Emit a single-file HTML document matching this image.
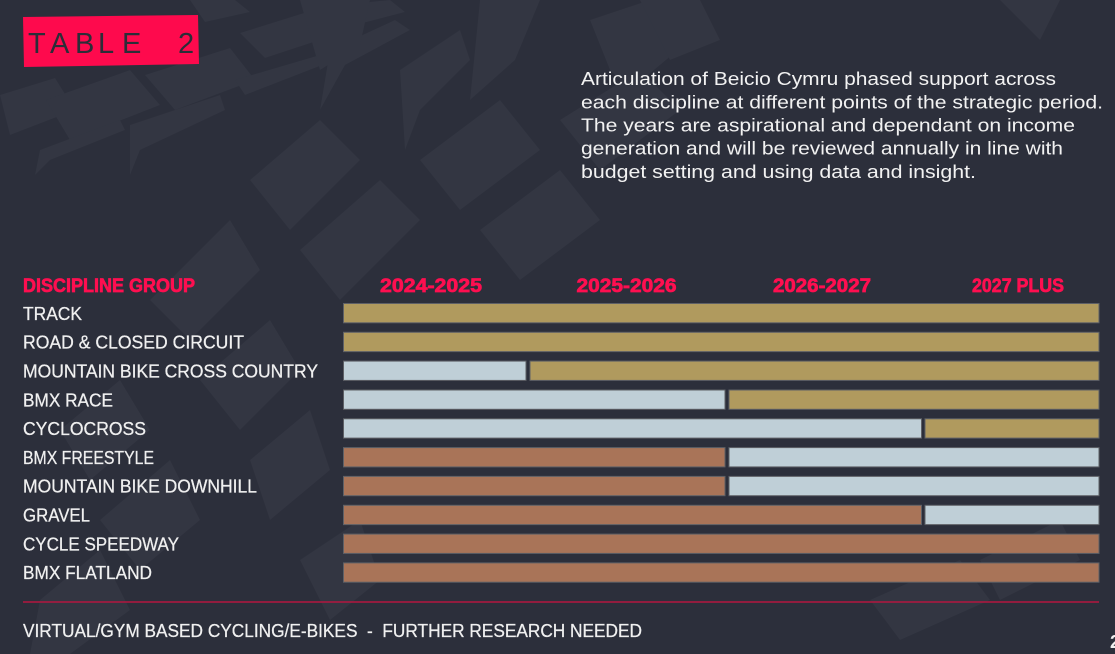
<!DOCTYPE html>
<html>
<head>
<meta charset="utf-8">
<style>
html,body{margin:0;padding:0;background:#2c2f3b;}
svg{display:block;}
</style>
</head>
<body>
<svg width="1115" height="654" viewBox="0 0 1115 654" xmlns="http://www.w3.org/2000/svg">
  <rect x="0" y="0" width="1115" height="654" fill="#2c2f3b"/>
  <!-- subtle tyre-tread pattern -->
  <g fill="#333642">
    <polygon points="190,0 235,0 250,12 205,22"/>
    <polygon points="240,33 320,8 350,30 265,58"/>
    <polygon points="340,5 390,0 405,12 355,25"/>
    <polygon points="145,75 230,48 255,80 175,110"/>
    <polygon points="0,95 55,78 75,110 10,135"/>
    <polygon points="46,100 130,70 160,105 70,140"/>
    <polygon points="235,80 320,55 330,62 245,95"/>
    <polygon points="130,125 220,95 225,110 140,150 130,175"/>
    <polygon points="40,150 120,120 125,130 50,160 35,175"/>
    <polygon points="330,50 395,20 410,30 345,65 320,110"/>
    <polygon points="300,0 370,0 360,45 320,70"/>
    <polygon points="400,70 460,30 470,60 420,110 405,150"/>
    <polygon points="480,0 540,0 515,60 470,100"/>
    <polygon points="590,20 650,0 700,0 690,40 630,90 610,70"/>
    <polygon points="560,120 640,70 680,110 600,170"/>
    <polygon points="250,180 320,120 360,160 290,230"/>
    <polygon points="300,250 380,180 420,220 340,300"/>
    <polygon points="420,160 500,100 540,150 460,210"/>
    <polygon points="480,230 560,170 600,220 520,280"/>
    <polygon points="150,300 230,220 260,270 190,340"/>
    <polygon points="200,380 270,320 300,370 240,430"/>
    <polygon points="60,430 120,380 150,430 90,480"/>
    <polygon points="100,520 170,460 200,520 140,570"/>
    <polygon points="40,600 100,550 130,610 70,654 30,654"/>
    <polygon points="250,460 310,410 330,470 270,520"/>
    <polygon points="300,560 360,520 380,580 330,620"/>
    <polygon points="640,0 700,0 720,40 670,60"/>
    <polygon points="870,600 960,560 990,600 900,640"/>
    <polygon points="980,560 1060,520 1080,560 1000,600"/>
    <polygon points="1000,0 1060,0 1040,40"/>
  </g>

  <!-- TABLE 2 badge -->
  <polygon points="23,17 198,15 199,64 24,67" fill="#fe0a4d"/>
  <text x="28 50 75 98 122 178" y="53" font-family="Liberation Sans, sans-serif" font-size="29" fill="#2b2d38">TABLE2</text>

  <!-- paragraph -->
  <g font-family="Liberation Sans, sans-serif" font-size="18" fill="#f2f2f2">
    <text x="581" y="85" textLength="475" lengthAdjust="spacingAndGlyphs">Articulation of Beicio Cymru phased support across</text>
    <text x="581" y="108.3" textLength="522" lengthAdjust="spacingAndGlyphs">each discipline at different points of the strategic period.</text>
    <text x="581" y="131.5" textLength="494" lengthAdjust="spacingAndGlyphs">The years are aspirational and dependant on income</text>
    <text x="581" y="154.7" textLength="482" lengthAdjust="spacingAndGlyphs">generation and will be reviewed annually in line with</text>
    <text x="581" y="178" textLength="395" lengthAdjust="spacingAndGlyphs">budget setting and using data and insight.</text>
  </g>

  <!-- headers -->
  <g font-family="Liberation Sans, sans-serif" font-size="19" font-weight="bold" fill="#fe0f50" stroke="#fe0f50" stroke-width="0.7">
    <text x="23" y="292" textLength="172" lengthAdjust="spacingAndGlyphs">DISCIPLINE GROUP</text>
    <text x="380" y="292" textLength="102" lengthAdjust="spacingAndGlyphs">2024-2025</text>
    <text x="576.5" y="292" textLength="100" lengthAdjust="spacingAndGlyphs">2025-2026</text>
    <text x="773" y="292" textLength="98" lengthAdjust="spacingAndGlyphs">2026-2027</text>
    <text x="972" y="292" textLength="92" lengthAdjust="spacingAndGlyphs">2027 PLUS</text>
  </g>

  <!-- labels -->
  <g font-family="Liberation Sans, sans-serif" font-size="18" fill="#f0f0f0" stroke="#f0f0f0" stroke-width="0.25">
    <text x="23" y="319.8" textLength="59" lengthAdjust="spacingAndGlyphs">TRACK</text>
    <text x="23" y="348.6" textLength="221" lengthAdjust="spacingAndGlyphs">ROAD &amp; CLOSED CIRCUIT</text>
    <text x="23" y="377.4" textLength="295" lengthAdjust="spacingAndGlyphs">MOUNTAIN BIKE CROSS COUNTRY</text>
    <text x="23" y="406.3" textLength="90" lengthAdjust="spacingAndGlyphs">BMX RACE</text>
    <text x="23" y="435.1" textLength="123" lengthAdjust="spacingAndGlyphs">CYCLOCROSS</text>
    <text x="23" y="463.9" textLength="131" lengthAdjust="spacingAndGlyphs">BMX FREESTYLE</text>
    <text x="23" y="492.7" textLength="234" lengthAdjust="spacingAndGlyphs">MOUNTAIN BIKE DOWNHILL</text>
    <text x="23" y="521.6" textLength="67" lengthAdjust="spacingAndGlyphs">GRAVEL</text>
    <text x="23" y="550.4" textLength="156" lengthAdjust="spacingAndGlyphs">CYCLE SPEEDWAY</text>
    <text x="23" y="579.2" textLength="129" lengthAdjust="spacingAndGlyphs">BMX FLATLAND</text>
  </g>

  <!-- bars -->
  <g stroke="#5e6066" stroke-width="1">
    <rect x="343.5" y="303.5" width="755.5" height="19.3" fill="#b09a5e"/>
    <rect x="343.5" y="332.3" width="755.5" height="19.3" fill="#b09a5e"/>
    <rect x="343.5" y="361.1" width="182.5" height="19.3" fill="#bfcfd7"/>
    <rect x="530" y="361.1" width="569" height="19.3" fill="#b09a5e"/>
    <rect x="343.5" y="390" width="381.5" height="19.3" fill="#bfcfd7"/>
    <rect x="729" y="390" width="370" height="19.3" fill="#b09a5e"/>
    <rect x="343.5" y="418.8" width="578" height="19.3" fill="#bfcfd7"/>
    <rect x="925" y="418.8" width="174" height="19.3" fill="#b09a5e"/>
    <rect x="343.5" y="447.6" width="381.5" height="19.3" fill="#a97458"/>
    <rect x="729" y="447.6" width="370" height="19.3" fill="#bfcfd7"/>
    <rect x="343.5" y="476.4" width="381.5" height="19.3" fill="#a97458"/>
    <rect x="729" y="476.4" width="370" height="19.3" fill="#bfcfd7"/>
    <rect x="343.5" y="505.3" width="578" height="19.3" fill="#a97458"/>
    <rect x="925" y="505.3" width="174" height="19.3" fill="#bfcfd7"/>
    <rect x="343.5" y="534.1" width="755.5" height="19.3" fill="#a97458"/>
    <rect x="343.5" y="562.9" width="755.5" height="19.3" fill="#a97458"/>
  </g>

  <!-- divider -->
  <line x1="23" y1="602" x2="1099" y2="602" stroke="#b3173f" stroke-width="1.5"/>

  <!-- footer -->
  <text x="23" y="637" font-family="Liberation Sans, sans-serif" font-size="18" fill="#f0f0f0" stroke="#f0f0f0" stroke-width="0.25" textLength="619" lengthAdjust="spacingAndGlyphs" xml:space="preserve">VIRTUAL/GYM BASED CYCLING/E-BIKES  -  FURTHER RESEARCH NEEDED</text>
  <text x="1110" y="648" font-family="Liberation Sans, sans-serif" font-size="18" font-weight="bold" fill="#f0f0f0">2</text>
</svg>
</body>
</html>
